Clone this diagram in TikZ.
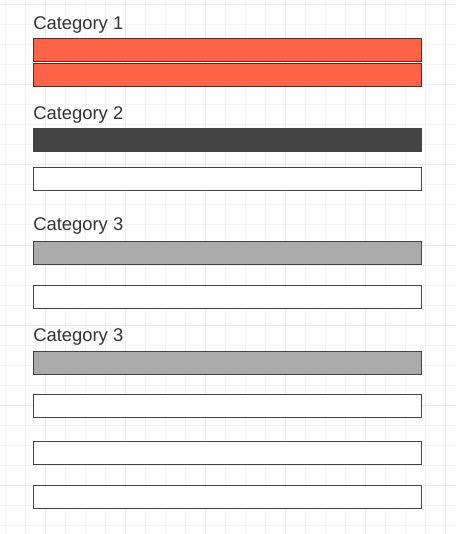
\documentclass[tikz,border=0pt]{standalone}
\usepackage{fontspec}
\setmainfont{Liberation Sans}
\definecolor{gridminor}{HTML}{F4F4F4}
\definecolor{gridmajor}{HTML}{EBEBEB}
\definecolor{tomatofill}{HTML}{FF6347}
\definecolor{tomatoline}{HTML}{5A2A22}
\definecolor{darkbar}{HTML}{444444}
\definecolor{graybar}{HTML}{AAAAAA}
\definecolor{edge}{HTML}{444444}
\definecolor{txt}{HTML}{333333}
\begin{document}
\begin{tikzpicture}[x=0.75pt,y=-0.75pt,
  cat/.style={anchor=base west,inner sep=0pt,text=txt,font=\fontsize{13.8}{16}\selectfont},
  redbar/.style={draw=tomatoline,fill=tomatofill,line width=0.75pt},
  darkbox/.style={draw=darkbar,fill=darkbar,line width=0.75pt},
  graybox/.style={draw=edge,fill=graybar,line width=0.75pt},
  whitebox/.style={draw=edge,fill=white,line width=0.75pt}]
\useasboundingbox (0,0) rectangle (456,534);
\fill[white] (0,0) rectangle (456,534);
% grid
\foreach \i in {0,...,22} {\draw[gridminor,line width=0.75pt] (5+20*\i,0) -- (5+20*\i,534);}
\foreach \j in {0,...,26} {\draw[gridminor,line width=0.75pt] (0,5+20*\j) -- (456,5+20*\j);}
\foreach \i in {0,...,5} {\draw[gridmajor,line width=0.75pt] (45+80*\i,0) -- (45+80*\i,534);}
\foreach \j in {0,...,6} {\draw[gridmajor,line width=0.75pt] (0,5+80*\j) -- (456,5+80*\j);}
% category 1
\node[cat] (c1) at (33,30) {Category 1};
\draw[redbar] (33.5,38.5) rectangle (421.5,62) coordinate (r1);
\draw[redbar] (33.5,63.5) rectangle (421.5,86.5) coordinate (r2);
% category 2
\node[cat] (c2) at (33,120) {Category 2};
\draw[darkbox] (33.5,128.5) rectangle (421.5,151.5) coordinate (d1);
\draw[whitebox] (33.5,167.5) rectangle (421.5,190.5) coordinate (w1);
% category 3
\node[cat] (c3) at (33,231) {Category 3};
\draw[graybox] (33.5,241.5) rectangle (421.5,264.5) coordinate (g1);
\draw[whitebox] (33.5,285.5) rectangle (421.5,308.5) coordinate (w2);
% category 3 (second)
\node[cat] (c4) at (33,341) {Category 3};
\draw[graybox] (33.5,351.5) rectangle (421.5,374.5) coordinate (g2);
\draw[whitebox] (33.5,394.5) rectangle (421.5,417.5) coordinate (w3);
\draw[whitebox] (33.5,441.5) rectangle (421.5,464.5) coordinate (w4);
\draw[whitebox] (33.5,485.5) rectangle (421.5,508.5) coordinate (w5);
\end{tikzpicture}
\end{document}
